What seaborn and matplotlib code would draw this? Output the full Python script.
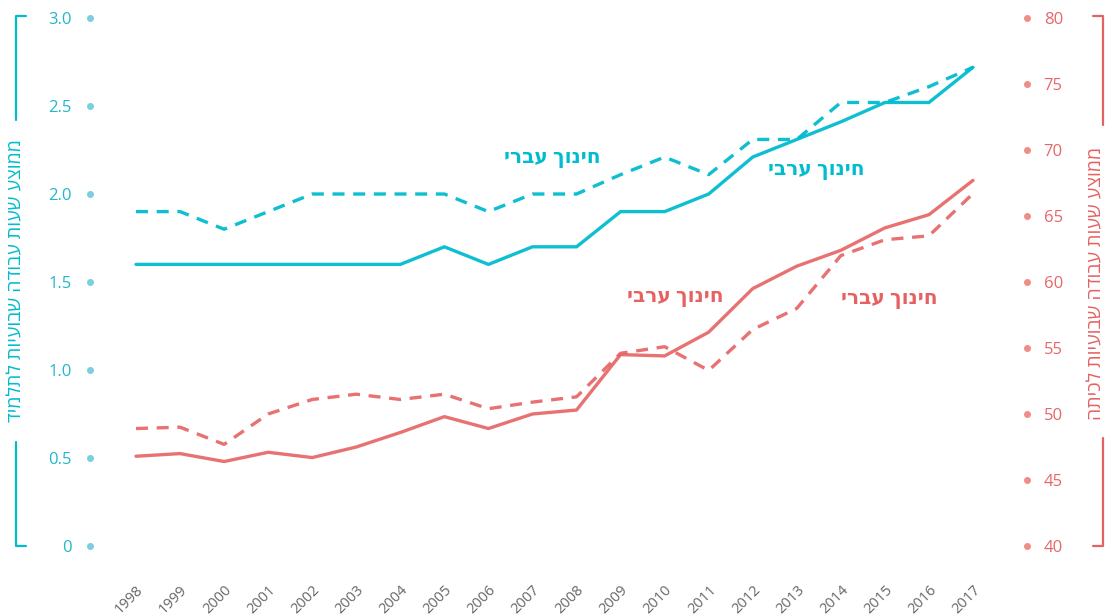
import matplotlib
matplotlib.use('Agg')
import matplotlib.pyplot as plt
from matplotlib.lines import Line2D
import pandas as pd
import seaborn as sns

years = list(range(1998, 2018))

# average weekly work hours per student (left axis)
arab_hours_student = [1.6, 1.6, 1.6, 1.6, 1.6, 1.6, 1.6, 1.7, 1.6, 1.7,
                      1.7, 1.9, 1.9, 2.0, 2.21, 2.31, 2.41, 2.52, 2.52, 2.72]
hebrew_hours_student = [1.9, 1.9, 1.8, 1.9, 2.0, 2.0, 2.0, 2.0, 1.9, 2.0,
                        2.0, 2.11, 2.21, 2.11, 2.31, 2.31, 2.52, 2.52, 2.61, 2.72]

# average weekly work hours per class (right axis)
arab_hours_class = [46.8, 47.0, 46.4, 47.1, 46.7, 47.5, 48.6, 49.8, 48.9, 50.0,
                    50.3, 54.5, 54.4, 56.2, 59.5, 61.2, 62.4, 64.1, 65.1, 67.7]
hebrew_hours_class = [48.9, 49.0, 47.7, 50.0, 51.1, 51.5, 51.1, 51.5, 50.4, 50.9,
                      51.3, 54.6, 55.1, 53.3, 56.4, 58.0, 62.0, 63.2, 63.5, 66.7]

left_ticks = [0, 0.5, 1.0, 1.5, 2.0, 2.5, 3.0]
left_tick_labels = ['0', '0.5', '1.0', '1.5', '2.0', '2.5', '3.0']
right_ticks = [40, 45, 50, 55, 60, 65, 70, 75, 80]

left_label = 'ממוצע שעות עבודה שבועיות לתלמיד'
right_label = 'ממוצע שעות עבודה שבועיות לכיתה'
lbl_hebrew = 'חינוך עברי'
lbl_arab = 'חינוך ערבי'

TEAL = '#00BCCE'
TEAL_DOT = '#7ACFDC'
RED = '#E66262'
RED_DOT = '#EE8E86'


def rtl(s):
    # matplotlib has no bidi support, Hebrew letters don't join so reversing is enough
    return s[::-1]


df = pd.DataFrame({'year': years,
                   'arab_student': arab_hours_student,
                   'hebrew_student': hebrew_hours_student,
                   'arab_class': arab_hours_class,
                   'hebrew_class': hebrew_hours_class})

sns.set_style('white')
plt.rcParams['font.family'] = ['Open Sans', 'DejaVu Sans']

fig = plt.figure(figsize=(11.06, 6.15), dpi=100)
ax = fig.add_axes([0.0814, 0.1122, 0.8472, 0.8585])
ax2 = ax.twinx()

sns.lineplot(data=df, x='year', y='arab_student', ax=ax, color=TEAL, lw=2.4, alpha=0.95)
sns.lineplot(data=df, x='year', y='hebrew_student', ax=ax, color=TEAL, lw=2.4,
             alpha=0.95, linestyle=(0, (3.6, 2.6)))
sns.lineplot(data=df, x='year', y='arab_class', ax=ax2, color=RED, lw=2.4, alpha=0.9)
sns.lineplot(data=df, x='year', y='hebrew_class', ax=ax2, color=RED, lw=2.4,
             alpha=0.9, linestyle=(0, (3.6, 2.6)))

ax.set_xlim(1996.956, 2018.227)
ax.set_ylim(0, 3)
ax2.set_ylim(40, 80)

for a in (ax, ax2):
    for s in a.spines.values():
        s.set_visible(False)
    a.set_xlabel('')
    a.set_ylabel('')
    a.grid(False)

ax.set_xticks(years)
ax.set_xticklabels([str(y) for y in years], rotation=45, ha='right',
                   rotation_mode='anchor', color='#666666', fontsize=10.5)
ax.tick_params(axis='x', length=0, pad=26)

ax.set_yticks(left_ticks)
ax.set_yticklabels(left_tick_labels, color='#1FB8CA', fontsize=12)
ax.tick_params(axis='y', length=0, pad=13)
ax2.set_yticks(right_ticks)
ax2.set_yticklabels([str(t) for t in right_ticks], color='#E5676A', fontsize=12)
ax2.tick_params(axis='y', length=0, pad=12)

# dots in place of tick marks
ax.plot([0] * len(left_ticks), left_ticks, 'o', color=TEAL_DOT, ms=4,
        transform=ax.get_yaxis_transform(), clip_on=False)
ax2.plot([1] * len(right_ticks), right_ticks, 'o', color=RED_DOT, ms=4,
         transform=ax2.get_yaxis_transform(), clip_on=False)

# series labels
ax.text(2007.44, 2.205, rtl(lbl_hebrew), color=TEAL, fontsize=14.5, fontweight='bold',
        ha='center', va='center')
ax.text(2013.45, 2.136, rtl(lbl_arab), color=TEAL, fontsize=14.5, fontweight='bold',
        ha='center', va='center')
ax2.text(2010.24, 58.86, rtl(lbl_arab), color=RED, fontsize=14.5, fontweight='bold',
         ha='center', va='center')
ax2.text(2015.1, 58.7, rtl(lbl_hebrew), color=RED, fontsize=14.5, fontweight='bold',
         ha='center', va='center')

# axis titles with bracket lines
W, H = 1106, 615


def px_line(xs, ys, color):
    fig.add_artist(Line2D([x / W for x in xs], [1 - y / H for y in ys],
                          color=color, lw=1.6, transform=fig.transFigure))


fig.text(16 / W, 1 - 281 / H, rtl(left_label), rotation=90, ha='center', va='center',
         color=TEAL, fontsize=14)
px_line([26, 16, 16], [16, 16, 120], TEAL)
px_line([16, 16, 26], [442, 546, 546], TEAL)

fig.text(1096 / W, 1 - 283 / H, rtl(right_label), rotation=90, ha='center', va='center',
         color=RED, fontsize=14)
px_line([1093, 1103, 1103], [16, 16, 125], RED)
px_line([1103, 1103, 1093], [438, 546, 546], RED)

fig.savefig('out.png', dpi=100)
